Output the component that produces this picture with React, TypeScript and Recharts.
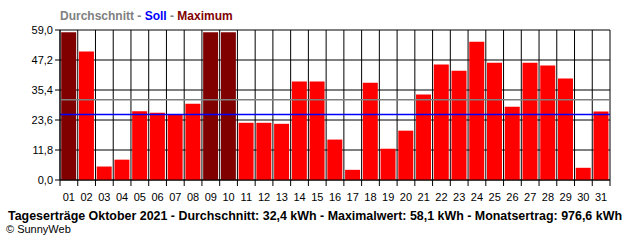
import { BarChart, Bar, Cell, CartesianGrid, XAxis, YAxis, ReferenceLine } from 'recharts'

// Tageserträge Oktober 2021 (kWh)
const DAYS = ['01', '02', '03', '04', '05', '06', '07', '08', '09', '10', '11', '12', '13', '14', '15', '16',
  '17', '18', '19', '20', '21', '22', '23', '24', '25', '26', '27', '28', '29', '30', '31']
const YIELD = [58.1, 50.5, 5.3, 8.0, 27.0, 26.5, 26.0, 30.0, 58.1, 58.1, 22.5, 22.5, 22.1, 38.7, 38.7, 15.9,
  4.0, 38.3, 12.3, 19.4, 33.6, 45.4, 43.0, 54.4, 46.1, 28.8, 46.1, 45.0, 39.9, 4.8, 26.9]
const Y_TICKS = [0, 11.8, 23.6, 35.4, 47.2, 59.0]
const AVERAGE = 31.6
const SOLL = 25.8
const MAXIMUM = 58.1

const data = DAYS.map((day, i) => ({ day, kwh: YIELD[i] }))

const W = 640
const H = 240
const MARGIN = { top: 30, right: 30, bottom: 40, left: 0 }
const Y_W = 60
const PLOT_W = W - MARGIN.left - MARGIN.right - Y_W
const STEP = PLOT_W / DAYS.length
const FONT = '"Liberation Sans", Arial, sans-serif'

const fmt = (v: number) => v.toFixed(1).replace('.', ',')

function DayTick(props: any) {
  const { x, payload, index } = props
  const left = x - STEP / 2
  return (
    <g>
      <line x1={left} x2={left} y1={180} y2={186} stroke="#000" />
      {index === DAYS.length - 1 && <line x1={x + STEP / 2} x2={x + STEP / 2} y1={180} y2={186} stroke="#000" />}
      <text x={x} y={201} textAnchor="middle" fontSize={11} fontFamily={FONT} fill="#000">
        {payload.value}
      </text>
    </g>
  )
}

export default function App() {
  return (
    <div style={{ position: 'absolute', left: 0, top: 0, width: W, height: H, background: '#fff' }}>
      <BarChart width={W} height={H} data={data} margin={MARGIN} barCategoryGap={1.2}>
        <CartesianGrid
          stroke="#000"
          strokeOpacity={1}
          verticalCoordinatesGenerator={({ offset }: any) =>
            DAYS.map((_, i) => offset.left + i * (offset.width / DAYS.length)).concat(offset.left + offset.width)
          }
        />
        <XAxis dataKey="day" stroke="#000" tickLine={false} tick={<DayTick />} interval={0} height={20} />
        <YAxis
          width={Y_W}
          domain={[0, 59]}
          ticks={Y_TICKS}
          tickFormatter={fmt}
          stroke="#000"
          tickSize={5}
          tick={{ fill: '#000', fontSize: 11, fontFamily: FONT }}
        />
        <Bar dataKey="kwh" isAnimationActive={false}>
          {YIELD.map((v, i) => (
            <Cell key={DAYS[i]} fill={v >= MAXIMUM ? '#800000' : '#ff0000'} />
          ))}
        </Bar>
        <ReferenceLine y={AVERAGE} stroke="#808080" strokeWidth={1.5} />
        <ReferenceLine y={SOLL} stroke="#0000ff" strokeWidth={1.5} />
      </BarChart>
      <svg width={W} height={H} style={{ position: 'absolute', left: 0, top: 0, pointerEvents: 'none' }}>
        <text x={60} y={20} fontSize={12} fontWeight="bold" fontFamily={FONT}>
          <tspan fill="#808080">Durchschnitt - </tspan>
          <tspan fill="#0000ff">Soll</tspan>
          <tspan fill="#808080"> - </tspan>
          <tspan fill="#800000">Maximum</tspan>
        </text>
        <text x={8} y={220} fontSize={12} fontWeight="bold" fontFamily={FONT} fill="#000" textLength={614} lengthAdjust="spacingAndGlyphs">
          Tageserträge Oktober 2021 - Durchschnitt: 32,4 kWh - Maximalwert: 58,1 kWh - Monatsertrag: 976,6 kWh
        </text>
        <text x={6} y={233} fontSize={11} fontFamily={FONT} fill="#000">
          © SunnyWeb
        </text>
      </svg>
    </div>
  )
}
